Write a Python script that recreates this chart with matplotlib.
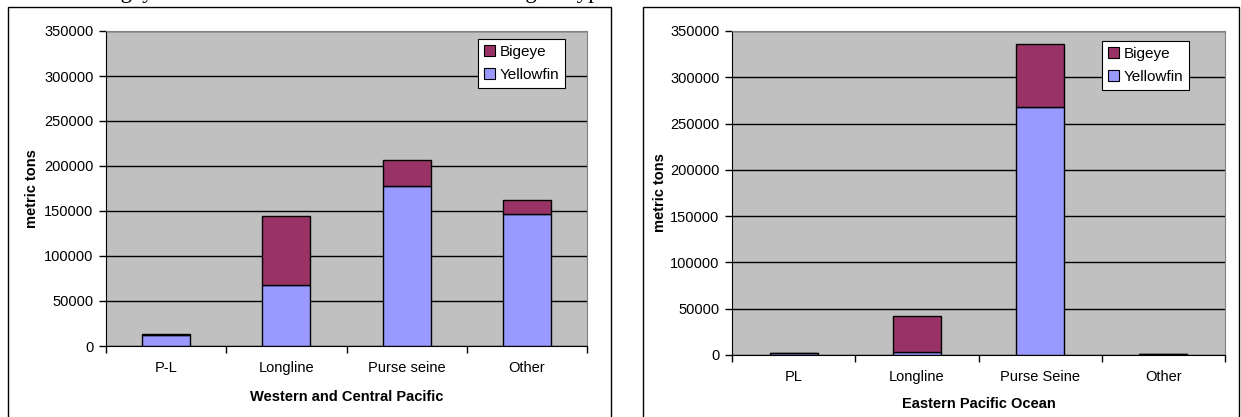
import matplotlib
matplotlib.use("Agg")
import matplotlib.pyplot as plt
from matplotlib.patches import Rectangle, Patch
import numpy as np

W, H = 1241, 417

# Catch by gear type (metric tons)
wcp_gears = ["P-L", "Longline", "Purse seine", "Other"]
wcp_yellowfin = [12000, 68000, 178000, 147000]
wcp_bigeye = [1500, 76000, 29000, 15000]

epo_gears = ["PL", "Longline", "Purse Seine", "Other"]
epo_yellowfin = [2000, 3000, 268000, 600]
epo_bigeye = [300, 39000, 68000, 400]

y_ticks = [0, 50000, 100000, 150000, 200000, 250000, 300000, 350000]

BIGEYE = "#993366"
YELLOWFIN = "#9999FF"
PLOT_BG = "#C0C0C0"
FS = 10.5

plt.rcParams["font.family"] = ["Liberation Sans", "DejaVu Sans"]

fig = plt.figure(figsize=(W / 100, H / 100), dpi=100)
fig.patch.set_facecolor("white")


def px_box(x0, y0, x1, y1):
    return [x0 / W, 1 - y1 / H, (x1 - x0) / W, (y1 - y0) / H]


# caption line running off the top edge
fig.text(0 / W, 1 + 2 / H, "Catches of bigeye and other tunas in each ocean for each gear type",
         family=["Liberation Serif", "DejaVu Serif"], fontsize=16.5, ha="left", va="baseline")

# chart frames
for (x0, x1) in [(8, 611), (643, 1239)]:
    fig.patches.append(Rectangle((x0 / W, -0.2), (x1 - x0) / W, 1 - 7 / H + 0.2,
                                 transform=fig.transFigure, fill=False,
                                 edgecolor="black", linewidth=1.0))


def draw_panel(box, gears, yellowfin, bigeye, xlabel, bar_w, legend_box, xlabel_y, ylabel_x):
    ax = fig.add_axes(px_box(*box))
    ax.set_facecolor(PLOT_BG)
    x = np.arange(len(gears))
    ax.set_axisbelow(True)
    ax.grid(axis="y", color="black", linewidth=1.0)
    ax.bar(x, yellowfin, width=bar_w, color=YELLOWFIN, edgecolor="black", linewidth=1.0,
           label="Yellowfin", zorder=3)
    ax.bar(x, bigeye, width=bar_w, bottom=yellowfin, color=BIGEYE, edgecolor="black",
           linewidth=1.0, label="Bigeye", zorder=3)
    ax.set_xlim(-0.5, len(gears) - 0.5)
    ax.set_ylim(0, 350000)
    ax.set_yticks(y_ticks)
    ax.set_yticklabels([str(v) for v in y_ticks], fontsize=FS)
    ax.set_xticks(np.arange(len(gears) + 1) - 0.5)
    ax.set_xticklabels([])
    ax.set_xticks(x, minor=True)
    ax.set_xticklabels(gears, minor=True, fontsize=FS)
    ax.tick_params(axis="x", which="minor", length=0, pad=11)
    ax.tick_params(axis="x", which="major", length=5, width=1, color="black")
    ax.tick_params(axis="y", length=5, width=1, color="black", pad=4)
    for s in ["top", "right"]:
        ax.spines[s].set_color("#808080")
    for s in ["left", "bottom"]:
        ax.spines[s].set_color("black")
    ax.set_xlabel(xlabel, fontsize=FS, fontweight="bold", va="top")
    ax.xaxis.set_label_coords(0.5, xlabel_y)
    ax.set_ylabel("metric tons", fontsize=FS, fontweight="bold")
    ax.yaxis.set_label_coords(ylabel_x, 0.5)
    handles = [Patch(facecolor=BIGEYE, edgecolor="black", linewidth=0.8),
               Patch(facecolor=YELLOWFIN, edgecolor="black", linewidth=0.8)]
    lx0, ly0, lx1, ly1 = legend_box
    leg = fig.legend(handles, ["Bigeye", "Yellowfin"], loc="upper left",
                     bbox_to_anchor=(lx0 / W, 1 - ly0 / H), bbox_transform=fig.transFigure,
                     fontsize=FS + 0.5, frameon=True, fancybox=False, borderpad=0.4,
                     handlelength=0.7, handleheight=0.7, handletextpad=0.3,
                     labelspacing=0.55, borderaxespad=0)
    leg.get_frame().set_edgecolor("black")
    leg.get_frame().set_linewidth(0.8)
    leg.get_frame().set_alpha(1.0)
    return ax


draw_panel((106, 31, 587, 346), wcp_gears, wcp_yellowfin, wcp_bigeye,
           "Western and Central Pacific", 0.4, (478, 39, 562, 89), -0.14, -0.139)
draw_panel((732, 31, 1225, 355), epo_gears, epo_yellowfin, epo_bigeye,
           "Eastern Pacific Ocean", 0.39, (1102, 41, 1187, 92), -0.13, -0.132)

fig.savefig("out.png", dpi=100, facecolor="white")
